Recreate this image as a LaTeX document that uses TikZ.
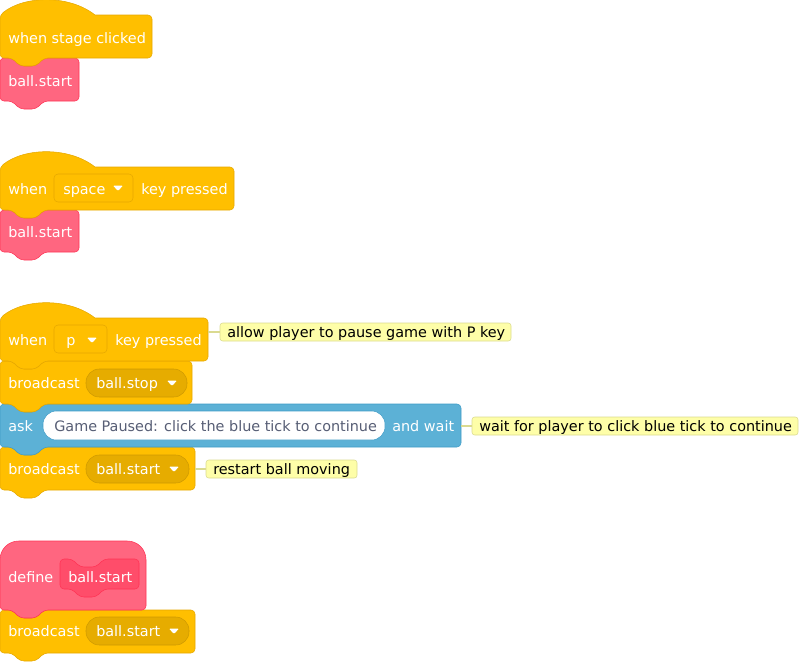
\documentclass[tikz,border=0pt]{standalone}
\usepackage{fontspec}
\setmainfont{DejaVu Sans}
\definecolor{yel}{HTML}{FFBF00}\definecolor{yelb}{HTML}{E6A800}
\definecolor{pill}{HTML}{E6AC00}\definecolor{pillb}{HTML}{CF9A00}
\definecolor{pnk}{HTML}{FF6680}\definecolor{pnkb}{HTML}{FF3355}
\definecolor{pnkd}{HTML}{FF4D6A}
\definecolor{blu}{HTML}{5CB1D6}\definecolor{blub}{HTML}{3F9CC7}
\definecolor{gtxt}{HTML}{575E75}
\definecolor{cmt}{HTML}{FEFEA8}\definecolor{cmtb}{HTML}{DADA90}
\newcommand\stackblk[6]{\draw[fill=#5,draw=#6,rounded corners=3] (#1,#2) -- ({#1+12},#2) -- ({#1+20},{#2+8}) -- ({#1+36},{#2+8}) -- ({#1+44},#2) -- ({#1+#3},#2) -- ({#1+#3},{#2+#4}) -- ({#1+44},{#2+#4}) -- ({#1+36},{#2+#4+8}) -- ({#1+20},{#2+#4+8}) -- ({#1+12},{#2+#4}) -- (#1,{#2+#4}) -- cycle;}
\newcommand\hatblk[4]{\draw[fill=yel,draw=yelb] (#1,#2) .. controls ({#1+25},{#2-20}) and ({#1+70},{#2-20}) .. ({#1+95},#2) [rounded corners=3] -- ({#1+#3},#2) -- ({#1+#3},{#2+#4}) -- ({#1+44},{#2+#4}) -- ({#1+36},{#2+#4+8}) -- ({#1+20},{#2+#4+8}) -- ({#1+12},{#2+#4}) -- (#1,{#2+#4}) -- cycle;}
\newcommand\pill[4]{\draw[fill=#3,draw=#4,rounded corners=10] (#1) rectangle (#2);}
\newcommand\arr[1]{\fill[white,rounded corners=0.8] ($(#1)+(-5,-2.5)$) -- ($(#1)+(5,-2.5)$) -- ($(#1)+(0,3)$) -- cycle;}
\usetikzlibrary{calc}
\tikzset{
 lbl/.style={anchor=base west,text=white,font=\fontsize{10.8}{12}\selectfont,inner sep=0},
 dlbl/.style={anchor=base west,text=black,font=\fontsize{10.8}{12}\selectfont,inner sep=0},
 glbl/.style={anchor=base west,text=gtxt,font=\fontsize{10.8}{12}\selectfont,inner sep=0},
 cbox/.style={fill=cmt,draw=cmtb,rounded corners=2},
 cline/.style={draw=cmtb,line width=0.8pt}
}
\begin{document}
\begin{tikzpicture}[x=0.75pt,y=-0.75pt]
\useasboundingbox (0,0) rectangle (800,661);
% script 1
\stackblk{0}{58}{79}{43}{pnk}{pnkb}
\hatblk{0}{15}{152}{43}
\node[lbl] (t1) at (8,43) {when stage clicked};
\node[lbl] (t2) at (8,86) {ball.start};
% script 2
\stackblk{0}{210}{79}{42}{pnk}{pnkb}
\hatblk{0}{167}{234}{43}
\draw[fill=yel,draw=yelb,rounded corners=3] (54,174) rectangle (133,202);
\node[lbl] (t3) at (8,194) {when};
\node[lbl] (t4) at (63,194) {space};
\coordinate (a1) at (118,188); \arr{a1}
\node[lbl] (t5) at (141,194) {key pressed};
\node[lbl] (t6) at (8,237) {ball.start};
% script 3
\stackblk{0}{447}{195}{43}{yel}{yelb}
\stackblk{0}{404}{461}{43}{blu}{blub}
\stackblk{0}{361}{192}{43}{yel}{yelb}
\hatblk{0}{318}{208}{43}
\draw[fill=yel,draw=yelb,rounded corners=3] (54,325) rectangle (107,353);
\node[lbl] (t7) at (8,345) {when};
\node[lbl] (t8) at (66,345) {p};
\coordinate (a2) at (92,340); \arr{a2}
\node[lbl] (t9) at (115,345) {key pressed};
\draw[cbox] (220,323) rectangle (511,341);
\node[dlbl] (c1) at (227,337) {allow player to pause game with P key};
\coordinate (e1) at (208,332); \draw[cline] (e1) -- (220,332);
\pill{86,369}{187,397}{pill}{pillb}
\node[lbl] (t10) at (8,388) {broadcast};
\node[lbl] (t11) at (96,388) {ball.stop};
\coordinate (a3) at (172,383); \arr{a3}
\draw[fill=white,draw=blub,rounded corners=10] (43,411) rectangle (385,440);
\node[lbl] (t12) at (8,431) {ask};
\node[glbl] (t13) at (54,431) {Game Paused: click the blue tick to continue};
\node[lbl] (t14) at (392,431) {and wait};
\draw[cbox] (472,417) rectangle (798,435);
\node[dlbl] (c2) at (479,431) {wait for player to click blue tick to continue};
\coordinate (e2) at (461,426); \draw[cline] (e2) -- (472,426);
\pill{86,455}{189,483}{pill}{pillb}
\node[lbl] (t15) at (8,474) {broadcast};
\node[lbl] (t16) at (96,474) {ball.start};
\coordinate (a4) at (174,469); \arr{a4}
\draw[cbox] (206,460) rectangle (357,478);
\node[dlbl] (c3) at (213,474) {restart ball moving};
\coordinate (e3) at (195,469); \draw[cline] (e3) -- (206,469);
% define
\stackblk{0}{610}{195}{43}{yel}{yelb}
\draw[fill=pnk,draw=pnkb] (0,610) [rounded corners=14] -- (0,541) -- (146,541) [rounded corners=3] -- (146,610) -- (44,610) -- (36,618) -- (20,618) -- (12,610) -- cycle;
\stackblk{60}{559}{79}{30}{pnkd}{pnkb}
\node[lbl] (t17) at (8,582) {define};
\node[lbl] (t18) at (68,582) {ball.start};
\pill{86,617}{189,645}{pill}{pillb}
\node[lbl] (t19) at (8,636) {broadcast};
\node[lbl] (t20) at (96,636) {ball.start};
\coordinate (a5) at (174,631); \arr{a5}
\end{tikzpicture}
\end{document}
